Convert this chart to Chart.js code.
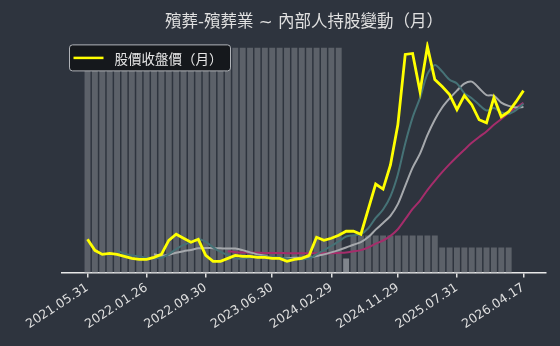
<!DOCTYPE html>
<html>
<head>
<meta charset="utf-8">
<script src="https://cdn.jsdelivr.net/npm/chart.js@4.4.1/dist/chart.umd.min.js"></script>
<style>
  html, body { margin: 0; padding: 0; background: #2e343e; }
  #wrap { width: 560px; height: 346px; }
</style>
</head>
<body>
<div id="wrap"><canvas id="grafico" width="560" height="346"></canvas></div>
<script>
// ===== DADOS =====
const titulo = "殯葬-殯葬業 ~ 內部人持股變動（月）";
const rotuloPreco = "股價收盤價（月）";

const tickAt = [0, 8, 16, 25, 33, 42, 50, 59];
const tickLabels = ["2021.05.31", "2022.01.26", "2022.09.30", "2023.06.30", "2024.02.29", "2024.11.29", "2025.07.31", "2026.04.17"];

// preço de fechamento mensal
const preco = [
  36.5, 31, 29, 29.5, 29, 28, 27, 26.5, 26.5, 27.5,
  29, 36, 39, 37, 35, 36.5, 28.5, 25.5, 25.5, 27,
  28.5, 28, 28, 27.5, 27.5, 27, 27, 25.5, 26.5, 27,
  28.5, 37.5, 36, 37, 38.5, 40.5, 40.5, 39, 51.5, 64,
  61.5, 73.5, 93.5, 128.5, 129, 110, 132.5, 116, 112.5, 108.5,
  101, 108, 103.5, 96, 94.5, 107, 97.5, 100, 105, 110.5
];

// médias (linhas sem legenda)
const media5 = [
  null, null, null, null, 31, 29.3, 28.5, 28, 27.4, 27.1,
  27.3, 29.1, 31.6, 33.7, 35.2, 36.7, 35.2, 32.5, 30.2, 28.6,
  27, 26.9, 27.4, 27.8, 27.9, 27.6, 27.4, 26.9, 26.7, 26.6,
  26.9, 29, 31.1, 33.2, 35.5, 37.9, 38.5, 39.1, 42, 47.1,
  51.3, 57.9, 68.8, 84.2, 97.2, 106.9, 118.7, 123.2, 120, 115.9,
  114.1, 109.2, 106.7, 103.4, 100.6, 101.8, 99.7, 99, 100.8, 104
];
const media10 = [
  null, null, null, null, null, null, null, null, null, 29.1,
  28.3, 28.8, 29.8, 30.6, 31.2, 32, 32.2, 32.1, 32, 31.9,
  31.9, 31.1, 30, 29, 28.3, 27.3, 27.2, 27.2, 27.3, 27.3,
  27.3, 28.2, 29, 30, 31.1, 32.4, 33.8, 35.1, 37.6, 41.3,
  44.6, 48.2, 54, 63.1, 72.2, 79.1, 88.3, 96, 102.1, 106.6,
  110.5, 114, 115, 111.7, 108.3, 108, 104.5, 102.9, 102.1, 102.3
];
const media20 = [
  null, null, null, null, null, null, null, null, null, null,
  null, null, null, null, null, null, null, null, null, 30.5,
  30.1, 29.9, 29.9, 29.8, 29.7, 29.7, 29.7, 29.6, 29.6, 29.6,
  29.6, 29.6, 29.5, 29.5, 29.7, 29.9, 30.5, 31.1, 32.4, 34.3,
  35.9, 38.2, 41.5, 46.5, 51.6, 55.8, 61, 65.6, 69.9, 73.9,
  77.6, 81.1, 84.5, 87.4, 90.2, 93.5, 96.4, 99.4, 102.1, 104.4
];

// participação dos insiders (%)
const participacao = [
  48.6, 48.6, 48.6, 48.6, 48.6, 48.6, 48.6, 48.6, 48.6, 48.6,
  48.6, 48.6, 48.6, 48.6, 48.6, 48.6, 48.6, 48.6, 48.6, 48.6,
  48.6, 48.6, 48.6, 48.6, 48.6, 48.6, 48.6, 48.6, 48.6, 48.6,
  48.6, 48.6, 48.6, 48.6, 48.6, 3.0, 8.0, 8.0, 8.0, 8.0,
  8.0, 8.0, 8.0, 8.0, 8.0, 8.0, 8.0, 8.0, 5.4, 5.4,
  5.4, 5.4, 5.4, 5.4, 5.4, 5.4, 5.4, 5.4, null, null
];

const pontos = arr => arr.map((v, i) => ({ x: i, y: v }));
const fonte = "'DejaVu Sans', 'Noto Sans CJK TC', sans-serif";
const fonteCJK = "'Noto Sans CJK TC', 'DejaVu Sans', sans-serif";

// ===== LEGENDA (caixa escura por cima das barras) =====
const legendaCaixa = {
  id: "legendaCaixa",
  afterDatasetsDraw(chart) {
    const ctx = chart.ctx;
    const a = chart.chartArea;
    const x = a.left + 7.5, y = a.top + 3.5;
    ctx.save();
    ctx.beginPath();
    ctx.roundRect(x, y, 161, 26, 3);
    ctx.fillStyle = "#15181c";
    ctx.fill();
    ctx.strokeStyle = "#b0b3b8";
    ctx.lineWidth = 1;
    ctx.stroke();

    ctx.beginPath();
    ctx.moveTo(x + 4, y + 13);
    ctx.lineTo(x + 34, y + 13);
    ctx.strokeStyle = "#ffff00";
    ctx.lineWidth = 2.5;
    ctx.stroke();

    ctx.fillStyle = "#e6e6e6";
    ctx.font = "13.5px " + fonteCJK;
    ctx.textBaseline = "middle";
    ctx.fillText(chart.data.datasets[0].label, x + 45, y + 13.5);
    ctx.restore();
  }
};

// ===== GRÁFICO =====
new Chart(document.getElementById("grafico"), {
  type: "bar",
  data: {
    datasets: [
      {
        type: "line", label: rotuloPreco, data: pontos(preco),
        borderColor: "#ffff00", borderWidth: 2.8, pointRadius: 0, tension: 0,
        yAxisID: "yPreco", order: 0
      },
      {
        type: "line", label: "m5", data: pontos(media5),
        borderColor: "#467276", borderWidth: 2, pointRadius: 0, tension: 0.3,
        yAxisID: "yPreco", order: 1
      },
      {
        type: "line", label: "m10", data: pontos(media10),
        borderColor: "#a6a9ad", borderWidth: 2, pointRadius: 0, tension: 0.3,
        yAxisID: "yPreco", order: 2
      },
      {
        type: "line", label: "m20", data: pontos(media20),
        borderColor: "#a52d6b", borderWidth: 2, pointRadius: 0, tension: 0.3,
        yAxisID: "yPreco", order: 3
      },
      {
        type: "bar", label: "持股", data: pontos(participacao),
        backgroundColor: c => c.dataIndex === 35 ? "#80858c" : "#5c6169",
        barPercentage: 0.8, categoryPercentage: 1,
        yAxisID: "yBarra", order: 10
      }
    ]
  },
  options: {
    responsive: false,
    animation: false,
    devicePixelRatio: 1,
    layout: { padding: { left: 62, right: 14, top: 0, bottom: 11 } },
    plugins: {
      legend: { display: false },
      tooltip: { enabled: false },
      title: {
        display: true,
        text: titulo,
        fullSize: false,
        color: "#e0e0e0",
        font: { family: fonte, size: 16.5, weight: "normal" },
        padding: { top: 13, bottom: 8.6 }
      }
    },
    scales: {
      x: {
        type: "linear",
        min: -3.45,
        max: 62.05,
        offset: false,
        afterBuildTicks: ax => { ax.ticks = tickAt.map(v => ({ value: v })); },
        ticks: {
          autoSkip: false,
          minRotation: 33,
          maxRotation: 33,
          color: "#dedede",
          font: { family: fonte, size: 12.5 },
          callback: v => tickLabels[tickAt.indexOf(v)]
        },
        grid: { drawOnChartArea: false, offset: false, tickLength: 5, color: "#e0e0e0", lineWidth: 1.5 },
        border: { display: true, color: "#e8e8e8", width: 1.5 }
      },
      yPreco: { display: false, min: 20, max: 135 },
      yBarra: { display: false, min: 0, max: 50 }
    }
  },
  plugins: [legendaCaixa]
});
</script>
</body>
</html>
